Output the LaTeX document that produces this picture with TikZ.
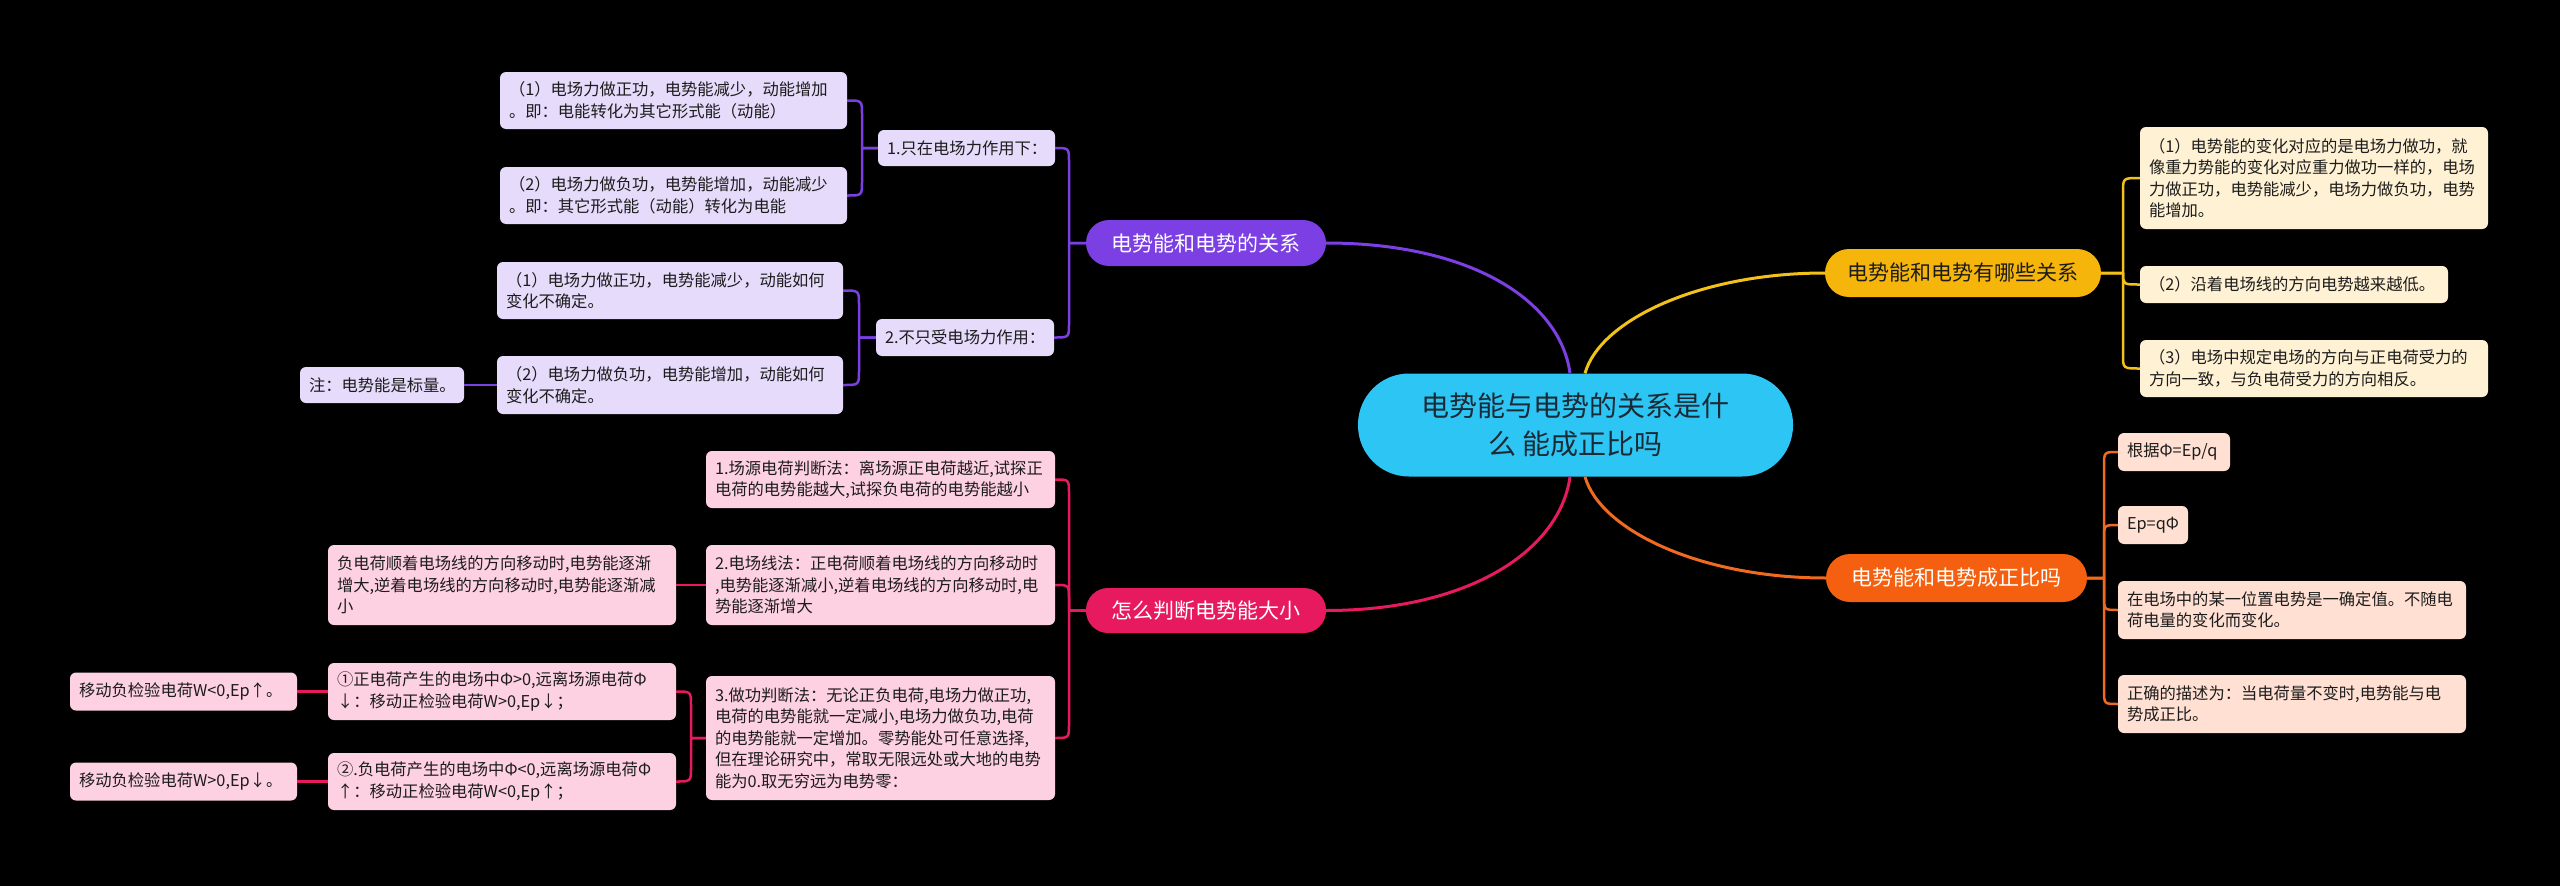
\documentclass[tikz,border=0pt]{standalone}
\usepackage{fontspec}
\setmainfont{Noto Sans CJK SC}
\definecolor{cyan0}{HTML}{2DC5F4}
\definecolor{ctxt}{HTML}{1B2A35}
\definecolor{pur}{HTML}{7B3FE4}
\definecolor{pursub}{HTML}{E6DBFB}
\definecolor{pnk}{HTML}{E81A5F}
\definecolor{pnksub}{HTML}{FDD0E2}
\definecolor{yel}{HTML}{F5B50A}
\definecolor{yelline}{HTML}{F2C21B}
\definecolor{yelsub}{HTML}{FFF1D3}
\definecolor{org}{HTML}{F4600F}
\definecolor{orgline}{HTML}{F06A20}
\definecolor{orgsub}{HTML}{FFE0D3}
\definecolor{txt}{HTML}{1C1C1C}
\begin{document}
\begin{tikzpicture}[x=1pt,y=-1pt,
  sub/.style={rounded corners=6pt, inner xsep=9pt, inner ysep=0pt, align=left,
    font=\fontsize{16.3}{21.5}\selectfont, text=txt},
  mainbox/.style={rounded corners=23pt, inner sep=0pt, align=center,
    font=\fontsize{21}{26}\selectfont},
  ln/.style={line width=2.5pt, line join=round},
  mln/.style={line width=3pt},
]
\fill[black] (0,0) rectangle (2560,886);
\useasboundingbox (0,0) rectangle (2560,886);

% central and main nodes
\node[mainbox, fill=cyan0, text=ctxt, minimum width=435pt, minimum height=103pt,
  rounded corners=51pt, font=\fontsize{28}{38}\selectfont] (c) at (1575.5,425) {电势能与电势的关系是什\\么 能成正比吗};
\node[mainbox, fill=pur, text=white, minimum width=240pt, minimum height=46pt] (pm) at (1206,243) {电势能和电势的关系};
\node[mainbox, fill=yel, text=txt, minimum width=276pt, minimum height=48pt, rounded corners=24pt] (ym) at (1963,273) {电势能和电势有哪些关系};
\node[mainbox, fill=org, text=white, minimum width=261pt, minimum height=48pt, rounded corners=24pt] (om) at (1956.5,578) {电势能和电势成正比吗};
\node[mainbox, fill=pnk, text=white, minimum width=240pt, minimum height=45pt, rounded corners=22pt] (km) at (1206,610.5) {怎么判断电势能大小};

% purple subtree
\node[sub, fill=pursub, text width=159pt, minimum height=36pt] (pa) at (966.5,148) {1.只在电场力作用下：};
\node[sub, fill=pursub, text width=329pt, minimum height=57pt] (pa1) at (673.5,100.5) {（1）电场力做正功，电势能减少，动能增加\\。即：电能转化为其它形式能（动能）};
\node[sub, fill=pursub, text width=329pt, minimum height=57pt] (pa2) at (673.5,195.5) {（2）电场力做负功，电势能增加，动能减少\\。即：其它形式能（动能）转化为电能};
\node[sub, fill=pursub, text width=160pt, minimum height=37pt] (pb) at (965,337.5) {2.不只受电场力作用：};
\node[sub, fill=pursub, text width=328pt, minimum height=57pt] (pb1) at (670,290.5) {（1）电场力做正功，电势能减少，动能如何\\变化不确定。};
\node[sub, fill=pursub, text width=328pt, minimum height=58pt] (pb2) at (670,385) {（2）电场力做负功，电势能增加，动能如何\\变化不确定。};
\node[sub, fill=pursub, text width=146pt, minimum height=36pt] (pn) at (382,385) {注：电势能是标量。};

% pink subtree
\node[sub, fill=pnksub, text width=331pt, minimum height=57pt] (k1) at (880.5,479.5) {1.场源电荷判断法：离场源正电荷越近,试探正\\电荷的电势能越大,试探负电荷的电势能越小};
\node[sub, fill=pnksub, text width=331pt, minimum height=80pt] (k2) at (880.5,585) {2.电场线法：正电荷顺着电场线的方向移动时\\,电势能逐渐减小,逆着电场线的方向移动时,电\\势能逐渐增大};
\node[sub, fill=pnksub, text width=330pt, minimum height=80pt] (k2l) at (502,585) {负电荷顺着电场线的方向移动时,电势能逐渐\\增大,逆着电场线的方向移动时,电势能逐渐减\\小};
\node[sub, fill=pnksub, text width=331pt, minimum height=124pt] (k3) at (880.5,738) {3.做功判断法：无论正负电荷,电场力做正功,\\电荷的电势能就一定减小,电场力做负功,电荷\\的电势能就一定增加。零势能处可任意选择,\\但在理论研究中，常取无限远处或大地的电势\\能为0.取无穷远为电势零：};
\node[sub, fill=pnksub, text width=330pt, minimum height=57pt] (k3a) at (502,691.5) {①正电荷产生的电场中Φ>0,远离场源电荷Φ\\↓：移动正检验电荷W>0,Ep↓；};
\node[sub, fill=pnksub, text width=330pt, minimum height=57pt] (k3b) at (502,781.5) {②.负电荷产生的电场中Φ<0,远离场源电荷Φ\\↑：移动正检验电荷W<0,Ep↑；};
\node[sub, fill=pnksub, text width=209pt, minimum height=38pt] (k3al) at (183.5,691.5) {移动负检验电荷W<0,Ep↑。};
\node[sub, fill=pnksub, text width=209pt, minimum height=38pt] (k3bl) at (183.5,781.5) {移动负检验电荷W>0,Ep↓。};

% yellow subtree
\node[sub, fill=yelsub, text width=330pt, minimum height=102pt] (y1) at (2314,178) {（1）电势能的变化对应的是电场力做功，就\\像重力势能的变化对应重力做功一样的，电场\\力做正功，电势能减少，电场力做负功，电势\\能增加。};
\node[sub, fill=yelsub, text width=290pt, minimum height=37pt] (y2) at (2294,284.5) {（2）沿着电场线的方向电势越来越低。};
\node[sub, fill=yelsub, text width=330pt, minimum height=57pt] (y3) at (2314,368.5) {（3）电场中规定电场的方向与正电荷受力的\\方向一致，与负电荷受力的方向相反。};

% orange subtree
\node[sub, fill=orgsub, text width=94pt, minimum height=38pt] (o1) at (2174,452) {根据Φ=Ep/q};
\node[sub, fill=orgsub, text width=52pt, minimum height=38pt] (o2) at (2153,525) {Ep=qΦ};
\node[sub, fill=orgsub, text width=330pt, minimum height=58pt] (o3) at (2292,610) {在电场中的某一位置电势是一确定值。不随电\\荷电量的变化而变化。};
\node[sub, fill=orgsub, text width=330pt, minimum height=58pt] (o4) at (2292,704) {正确的描述为：当电荷量不变时,电势能与电\\势成正比。};

% main connectors
\draw[mln, draw=pur] ([xshift=-5.5pt]c.north) .. controls (1560,300) and (1470,243) .. (pm.east);
\draw[mln, draw=yelline] ([xshift=9.5pt]c.north) .. controls (1600,320) and (1700,273) .. (ym.west);
\draw[mln, draw=pnk] ([xshift=-5.5pt]c.south) .. controls (1560,550) and (1470,610.5) .. (km.east);
\draw[mln, draw=orgline] ([xshift=9.5pt]c.south) .. controls (1600,530) and (1700,578) .. (om.west);

% purple connectors
\draw[ln, draw=pur] (pm.west) -- (1069,243) -- (1069,162) .. controls (1069,148) .. (pa.east);
\draw[ln, draw=pur] (pm.west) -- (1069,243) -- (1069,323.5) .. controls (1069,337.5) .. (pb.east);
\draw[ln, draw=pur] (pa.west) -- (862,148) -- (862,114.5) .. controls (862,100.5) .. (pa1.east);
\draw[ln, draw=pur] (pa.west) -- (862,148) -- (862,181.5) .. controls (862,195.5) .. (pa2.east);
\draw[ln, draw=pur] (pb.west) -- (859,337.5) -- (859,304.5) .. controls (859,290.5) .. (pb1.east);
\draw[ln, draw=pur] (pb.west) -- (859,337.5) -- (859,371) .. controls (859,385) .. (pb2.east);
\draw[ln, draw=pur] (pb2.west) -- (pn.east);

% pink connectors
\draw[ln, draw=pnk] (km.west) -- (1069,610.5) -- (1069,493.5) .. controls (1069,479.5) .. (k1.east);
\draw[ln, draw=pnk] (km.west) -- (1069,610.5) -- (1069,599) .. controls (1069,585) .. (k2.east);
\draw[ln, draw=pnk] (km.west) -- (1069,610.5) -- (1069,724) .. controls (1069,738) .. (k3.east);
\draw[ln, draw=pnk] (k2.west) -- (k2l.east);
\draw[ln, draw=pnk] (k3.west) -- (691,738) -- (691,705.5) .. controls (691,691.5) .. (k3a.east);
\draw[ln, draw=pnk] (k3.west) -- (691,738) -- (691,767.5) .. controls (691,781.5) .. (k3b.east);
\draw[ln, draw=pnk] (k3a.west) -- (k3al.east);
\draw[ln, draw=pnk] (k3b.west) -- (k3bl.east);

% yellow connectors
\draw[ln, draw=yelline] (ym.east) -- (2123,273) -- (2123,192) .. controls (2123,178) .. (y1.west);
\draw[ln, draw=yelline] (ym.east) -- (2123,273) .. controls (2123,284.5) .. (y2.west);
\draw[ln, draw=yelline] (ym.east) -- (2123,273) -- (2123,354.5) .. controls (2123,368.5) .. (y3.west);

% orange connectors
\draw[ln, draw=orgline] (om.east) -- (2104,578) -- (2104,466) .. controls (2104,452) .. (o1.west);
\draw[ln, draw=orgline] (om.east) -- (2104,578) -- (2104,539) .. controls (2104,525) .. (o2.west);
\draw[ln, draw=orgline] (om.east) -- (2104,578) -- (2104,596) .. controls (2104,610) .. (o3.west);
\draw[ln, draw=orgline] (om.east) -- (2104,578) -- (2104,690) .. controls (2104,704) .. (o4.west);
\end{tikzpicture}
\end{document}
